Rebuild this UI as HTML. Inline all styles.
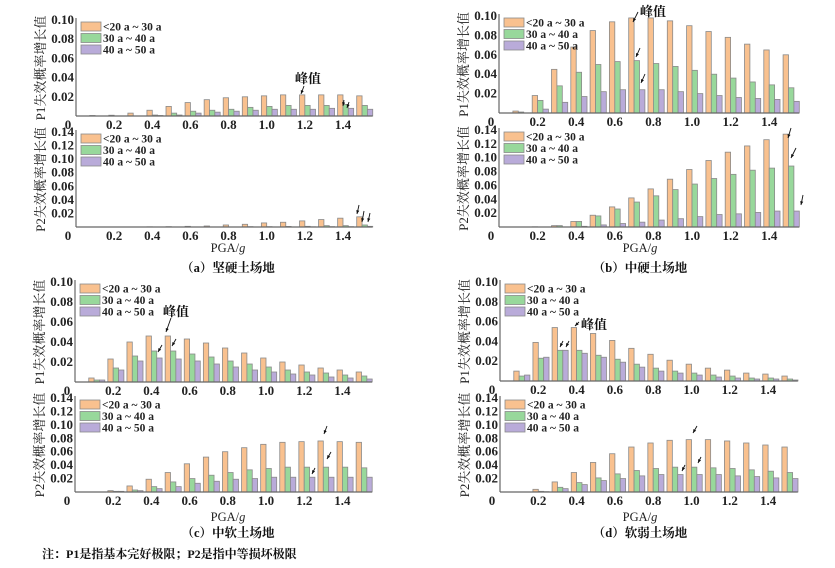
<!DOCTYPE html>
<html><head><meta charset="utf-8">
<style>
html,body{margin:0;padding:0;background:#fff;}
svg{display:block;}
text{font-family:"Liberation Serif","Noto Serif CJK SC",serif;}
</style></head>
<body>
<svg id="fig" width="835" height="568" viewBox="0 0 835 568" xmlns="http://www.w3.org/2000/svg"></svg>
<script>
const categories = [0.1,0.2,0.3,0.4,0.5,0.6,0.7,0.8,0.9,1.0,1.1,1.2,1.3,1.4,1.5];
const seriesNames = ["<20 a ~ 30 a","30 a ~ 40 a","40 a ~ 50 a"];
const xTickLabels = ["0","0.2","0.4","0.6","0.8","1.0","1.2","1.4"];
const p1TickLabels = ["0.02","0.04","0.06","0.08","0.10"];
const p2TickLabels = ["0.02","0.04","0.06","0.08","0.10","0.12","0.14"];

const aP1o=[0.0005,0.0008,0.003,0.006,0.010,0.014,0.017,0.019,0.020,0.021,0.022,0.022,0.022,0.022,0.021];
const aP1g=[0,0,0,0.001,0.003,0.005,0.006,0.007,0.009,0.010,0.011,0.011,0.011,0.012,0.011];
const aP1p=[0,0,0,0.0005,0.001,0.003,0.004,0.005,0.006,0.007,0.007,0.007,0.008,0.008,0.007];
const aP2o=[0,0,0,0.0003,0.0005,0.001,0.0015,0.003,0.004,0.006,0.007,0.009,0.011,0.013,0.015];
const aP2g=[0,0,0,0,0,0,0,0,0.0005,0.0005,0.0008,0.001,0.002,0.002,0.003];
const aP2p=[0,0,0,0,0,0,0,0,0,0,0,0.0003,0.0005,0.0005,0.001];

const bP1o=[0.002,0.018,0.045,0.068,0.085,0.094,0.098,0.098,0.095,0.090,0.084,0.078,0.071,0.065,0.060];
const bP1g=[0.001,0.013,0.028,0.042,0.050,0.053,0.054,0.051,0.048,0.044,0.040,0.036,0.032,0.029,0.026];
const bP1p=[0,0.004,0.011,0.017,0.022,0.024,0.024,0.024,0.022,0.020,0.018,0.016,0.015,0.014,0.012];
const bP2o=[0,0.0003,0.002,0.008,0.017,0.029,0.042,0.055,0.069,0.083,0.096,0.108,0.117,0.126,0.134];
const bP2g=[0,0,0.002,0.008,0.016,0.026,0.036,0.045,0.054,0.062,0.070,0.076,0.082,0.085,0.088];
const bP2p=[0,0,0,0.001,0.003,0.005,0.007,0.010,0.012,0.015,0.018,0.019,0.021,0.023,0.023];

const cP1o=[0.004,0.023,0.040,0.046,0.046,0.043,0.039,0.034,0.029,0.024,0.020,0.017,0.014,0.012,0.010];
const cP1g=[0.002,0.014,0.026,0.031,0.031,0.028,0.025,0.021,0.018,0.015,0.012,0.010,0.009,0.007,0.006];
const cP1p=[0.002,0.012,0.021,0.024,0.023,0.021,0.018,0.015,0.012,0.010,0.008,0.007,0.005,0.004,0.003];
const cP2o=[0,0.002,0.009,0.019,0.029,0.042,0.052,0.060,0.066,0.071,0.074,0.075,0.076,0.075,0.074];
const cP2g=[0,0.001,0.003,0.008,0.015,0.020,0.025,0.029,0.033,0.035,0.037,0.037,0.037,0.037,0.036];
const cP2p=[0,0.001,0.002,0.005,0.008,0.013,0.016,0.019,0.020,0.022,0.022,0.022,0.022,0.022,0.022];

const dP1o=[0.010,0.039,0.054,0.054,0.048,0.041,0.033,0.027,0.021,0.017,0.013,0.011,0.008,0.007,0.005];
const dP1g=[0.005,0.023,0.031,0.031,0.026,0.022,0.017,0.013,0.010,0.008,0.006,0.005,0.003,0.003,0.002];
const dP1p=[0.006,0.024,0.031,0.028,0.024,0.019,0.014,0.010,0.008,0.006,0.004,0.003,0.002,0.002,0.001];
const dP2o=[0,0.004,0.015,0.029,0.044,0.057,0.067,0.073,0.077,0.078,0.078,0.076,0.073,0.070,0.067];
const dP2g=[0,0.001,0.007,0.014,0.021,0.027,0.032,0.035,0.037,0.037,0.036,0.035,0.033,0.031,0.029];
const dP2p=[0,0.0005,0.005,0.011,0.017,0.020,0.024,0.026,0.026,0.026,0.026,0.024,0.023,0.021,0.020];

const NS="http://www.w3.org/2000/svg";
const svg=document.getElementById('fig');
const fills=["#f9c18f","#98d89b","#b9abd9"];
function el(tag,attrs,parent){const e=document.createElementNS(NS,tag);for(const k in attrs)e.setAttribute(k,attrs[k]);(parent||svg).appendChild(e);return e;}

function drawPlot(id,x0,unit,yTop,y0,ymax,ticks,ylabel,series){
  const g=el('g',{});
  
  
  const X=v=>x0+v*unit;
  const Y=v=>y0-(v/ymax)*(y0-yTop);
  const bw=0.028;
  series.forEach((arr,s)=>{
    categories.forEach((c,i)=>{
      const v=arr[i]; if(v<=0) return;
      const left=X(c-bw+s*bw), w=bw*unit, top=Y(v);
      const r=el('rect',{x:left,y:top,width:w,height:y0-top,fill:fills[s],stroke:"#8a8a8a","stroke-width":0.8},g);
      
      
    });
  });
  const ax=el('line',{x1:x0,y1:yTop-2,x2:x0,y2:y0,stroke:"#666","stroke-width":1.2},g);
  
  
  const bx=el('line',{x1:x0,y1:y0,x2:X(1.555),y2:y0,stroke:"#666","stroke-width":1.2},g);
  
  
  ticks.forEach((t,i)=>{
    const tx=el('text',{x:x0-2,y:Y(parseFloat(t))+4,'text-anchor':'end','font-size':13,'font-weight':'bold',fill:'#222'},g);
    tx.textContent=t;
    
    
  });
  xTickLabels.forEach(t=>{
    const v=parseFloat(t);
    const tx=el('text',{x:v===0?x0-8:X(v),y:y0+13,'text-anchor':'middle','font-size':13,'font-weight':'bold',fill:'#222'},g);
    tx.textContent=t;
    
    
  });
  const cy=(yTop+y0)/2;
  const yt=el('text',{x:0,y:0,transform:`translate(${x0-31},${cy}) rotate(-90)`,'text-anchor':'middle','font-size':13,fill:'#222'},g);
  yt.textContent=ylabel;
  
  
  seriesNames.forEach((n,s)=>{
    const ly=yTop+2+s*11.5;
    const lr=el('rect',{x:x0+5,y:ly,width:20,height:9,fill:fills[s],stroke:"#8a8a8a","stroke-width":0.8},g);
    
    
    const lt=el('text',{x:x0+27,y:ly+8.5,'font-size':11.5,'font-weight':'bold',fill:'#222'},g);
    lt.textContent=n;
    
    
  });
  return {X,Y};
}
function arrow(x1,y1,x2,y2){
  const l=el('line',{x1,y1,x2,y2,stroke:"#111","stroke-width":0.9});
  
  
  const a=Math.atan2(y2-y1,x2-x1);
  const p=el('polygon',{points:`${x2},${y2} ${x2-4*Math.cos(a-0.4)},${y2-4*Math.sin(a-0.4)} ${x2-4*Math.cos(a+0.4)},${y2-4*Math.sin(a+0.4)}`,fill:"#111"});
  
  
}
function txt(x,y,s,size,name,anchor,weight){
  const t=el('text',{x,y,'font-size':size,'text-anchor':anchor||'start','font-weight':weight||'normal',fill:'#111'});
  t.textContent=s;
  
  
}

const yl1="P1失效概率增长值", yl2="P2失效概率增长值";
drawPlot('a-p1',76,190.7,20,116,0.10,p1TickLabels,yl1,[aP1o,aP1g,aP1p]);
drawPlot('a-p2',76,190.7,132,227,0.14,p2TickLabels,yl2,[aP2o,aP2g,aP2p]);
drawPlot('b-p1',499,193,16,113,0.10,p1TickLabels,yl1,[bP1o,bP1g,bP1p]);
drawPlot('b-p2',499,193,130,227,0.14,p2TickLabels,yl2,[bP2o,bP2g,bP2p]);
drawPlot('c-p1',75,191,282,382,0.10,p1TickLabels,yl1,[cP1o,cP1g,cP1p]);
drawPlot('c-p2',75,191,398,492,0.14,p2TickLabels,yl2,[cP2o,cP2g,cP2p]);
drawPlot('d-p1',500,191.5,282,381,0.10,p1TickLabels,yl1,[dP1o,dP1g,dP1p]);
drawPlot('d-p2',500,191.5,398,492,0.14,p2TickLabels,yl2,[dP2o,dP2g,dP2p]);

// (a)
txt(295,83,"峰值",13,'peak-label','start','bold');
arrow(304,86,301,94);
arrow(344,100,343,106);
arrow(349,102,347,108);
arrow(359,205,357,214);
arrow(364,211,362,222);
arrow(370,213,368,222);
// (b)
txt(640,16,"峰值",13,'peak-label','start','bold');
arrow(638,12,633,22);
arrow(640,48,636,57);
arrow(645,74,641,83);
arrow(791,128,788,138);
arrow(796,148,791,158);
arrow(803,195,801,205);
// (c)
txt(163,316,"峰值",13,'peak-label','start','bold');
arrow(171,318,166,332);
arrow(162,345,158,352);
arrow(176,339,172,346);
arrow(327,426,324,434);
arrow(331,452,327,459);
arrow(315,468,312,474);
// (d)
txt(581,329,"峰值",13,'peak-label','start','bold');
arrow(579,322,575,326);
arrow(563,341,560,347);
arrow(569,341,566,347);
arrow(697,426,693,433);
arrow(685,465,682,471);
arrow(701,457,698,463);

[[228,252],[640,252],[228,521],[640,521]].forEach(p=>{
  const t=el('text',{x:p[0],y:p[1],'text-anchor':'middle','font-size':12.5,fill:'#222'});
  t.innerHTML='PGA/<tspan font-style="italic">g</tspan>';
  
  
});
txt(228,272,"（a）坚硬土场地",12.5,'caption-a','middle','bold');
txt(640,272,"（b）中硬土场地",12.5,'caption-b','middle','bold');
txt(228,537,"（c）中软土场地",12.5,'caption-c','middle','bold');
txt(640,537,"（d）软弱土场地",12.5,'caption-d','middle','bold');
txt(42,558,"注：P1是指基本完好极限；P2是指中等损坏极限",12,'footnote','start','bold');
</script>
</body></html>
